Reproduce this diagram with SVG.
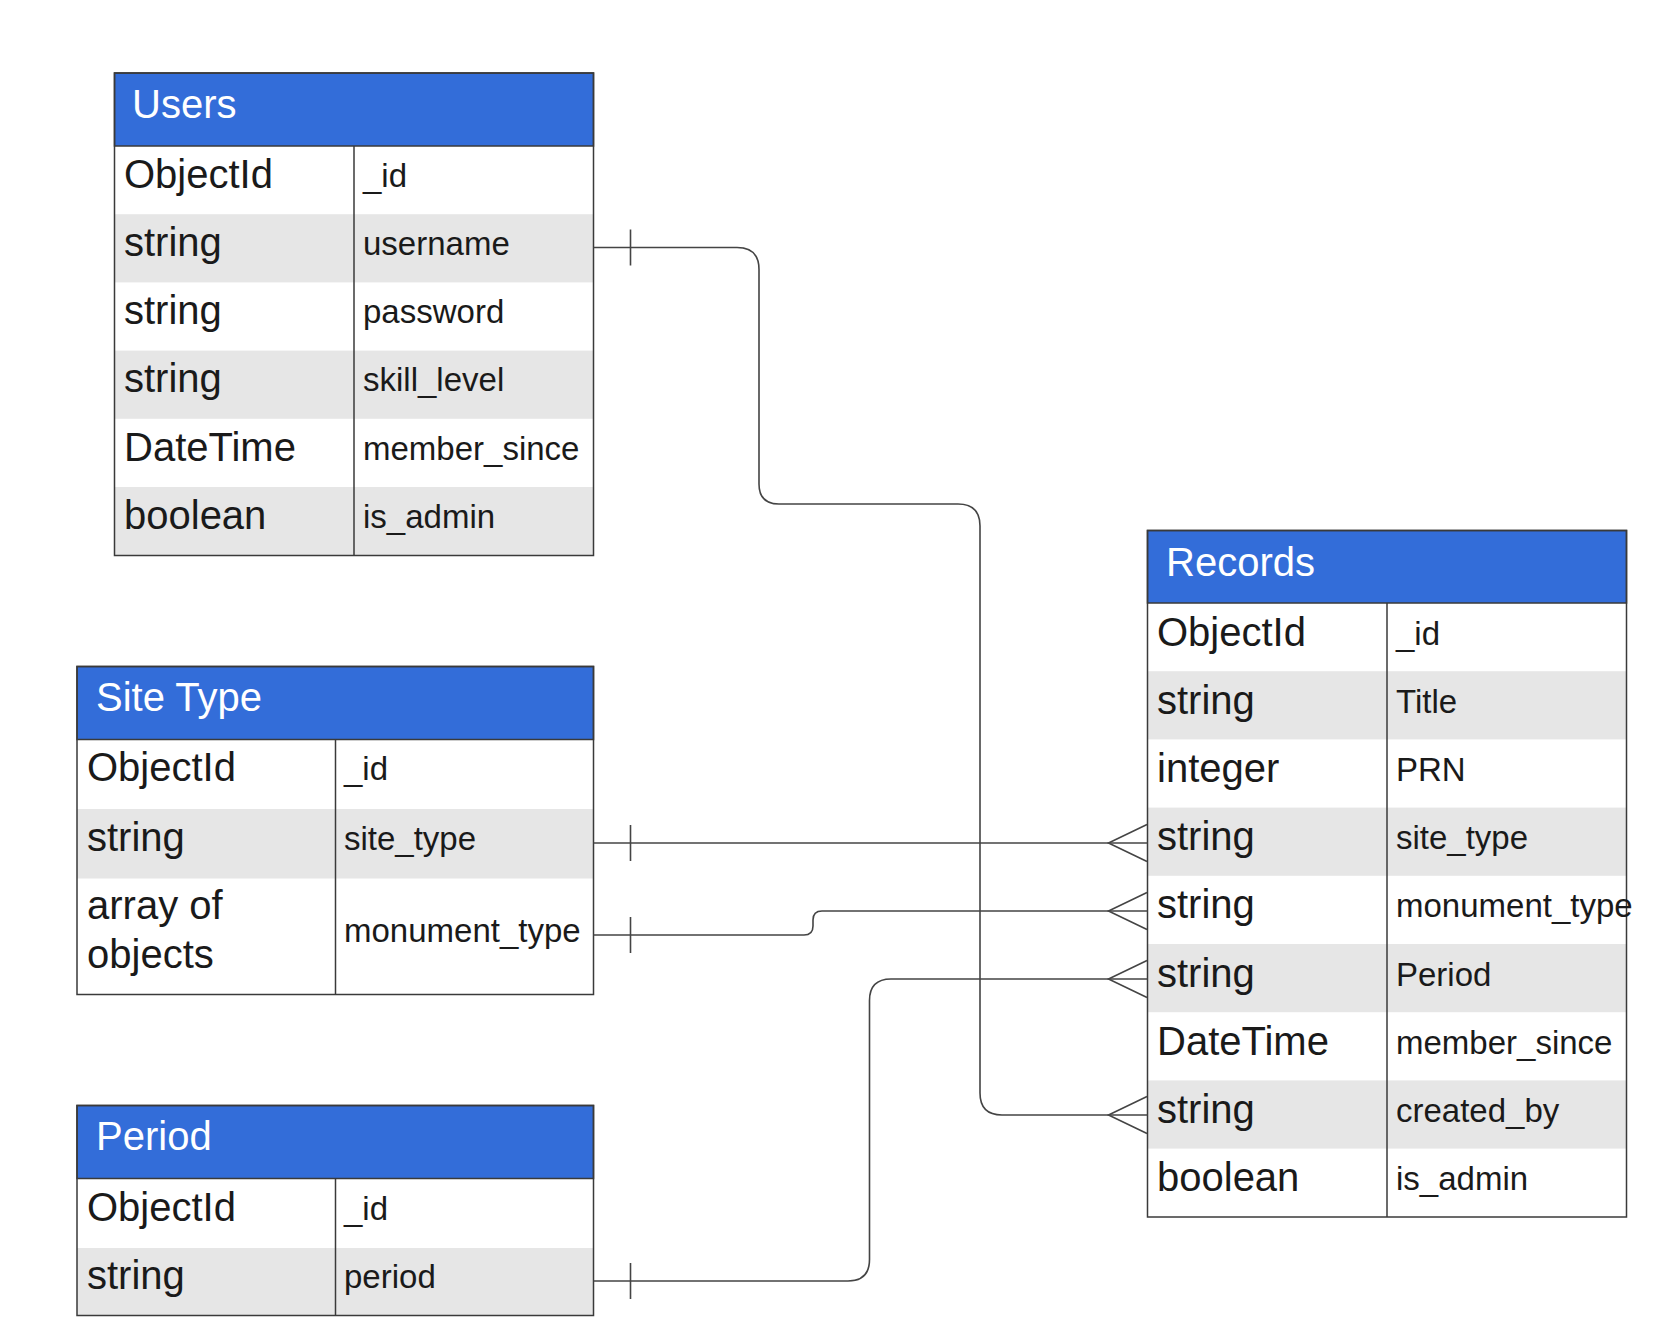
<svg xmlns="http://www.w3.org/2000/svg" width="1680" height="1340" viewBox="0 0 1680 1340">
<style>
.bg{fill:#ffffff}
.hdr{fill:#336dd9;stroke:#3a3a3a;stroke-width:1.5}
.gray{fill:#e6e6e6}
.white{fill:#ffffff}
.frame{fill:none;stroke:#3a3a3a;stroke-width:1.5}
.div{stroke:#3a3a3a;stroke-width:1.5}
.ht{font-family:"Liberation Sans",Arial,sans-serif;font-size:40px;fill:#ffffff}
.ty{font-family:"Liberation Sans",Arial,sans-serif;font-size:40px;fill:#1a1a1a}
.fd{font-family:"Liberation Sans",Arial,sans-serif;font-size:33px;fill:#1a1a1a}
.con{fill:none;stroke:#444444;stroke-width:1.6}
</style>
<rect class="bg" x="0" y="0" width="1680" height="1340"/>

<g id="users">
<rect class="white" x="114.5" y="146" width="479" height="409.5"/>
<rect class="gray" x="114.5" y="214.2" width="479" height="68.2"/>
<rect class="gray" x="114.5" y="350.6" width="479" height="68.2"/>
<rect class="gray" x="114.5" y="487" width="479" height="68.5"/>
<rect class="hdr" x="114.5" y="73" width="479" height="73"/>
<line class="div" x1="354" y1="146" x2="354" y2="555.5"/>
<rect class="frame" x="114.5" y="73" width="479" height="482.5"/>
<text class="ht" x="132" y="118">Users</text>
<text class="ty" x="124" y="188">ObjectId</text><text class="fd" x="363" y="187">_id</text>
<text class="ty" x="124" y="256">string</text><text class="fd" x="363" y="255">username</text>
<text class="ty" x="124" y="324">string</text><text class="fd" x="363" y="323">password</text>
<text class="ty" x="124" y="392">string</text><text class="fd" x="363" y="391">skill_level</text>
<text class="ty" x="124" y="461">DateTime</text><text class="fd" x="363" y="460">member_since</text>
<text class="ty" x="124" y="529">boolean</text><text class="fd" x="363" y="528">is_admin</text>
</g>

<g id="site_type">
<rect class="white" x="77" y="739.5" width="516.5" height="255"/>
<rect class="gray" x="77" y="809" width="516.5" height="69.5"/>
<rect class="hdr" x="77" y="666.5" width="516.5" height="73"/>
<line class="div" x1="335.5" y1="739.5" x2="335.5" y2="994.5"/>
<rect class="frame" x="77" y="666.5" width="516.5" height="328"/>
<text class="ht" x="96" y="711">Site Type</text>
<text class="ty" x="87" y="781">ObjectId</text><text class="fd" x="344" y="780">_id</text>
<text class="ty" x="87" y="851">string</text><text class="fd" x="344" y="850">site_type</text>
<text class="ty" x="87" y="919">array of</text>
<text class="ty" x="87" y="968">objects</text>
<text class="fd" x="344" y="942">monument_type</text>
</g>

<g id="period">
<rect class="white" x="77" y="1178.5" width="516.5" height="137"/>
<rect class="gray" x="77" y="1248" width="516.5" height="67.5"/>
<rect class="hdr" x="77" y="1105.5" width="516.5" height="73"/>
<line class="div" x1="335.5" y1="1178.5" x2="335.5" y2="1315.5"/>
<rect class="frame" x="77" y="1105.5" width="516.5" height="210"/>
<text class="ht" x="96" y="1150">Period</text>
<text class="ty" x="87" y="1221">ObjectId</text><text class="fd" x="344" y="1220">_id</text>
<text class="ty" x="87" y="1289">string</text><text class="fd" x="344" y="1288">period</text>
</g>

<g id="records">
<rect class="white" x="1147.5" y="603" width="479" height="614"/>
<rect class="gray" x="1147.5" y="671.2" width="479" height="68.2"/>
<rect class="gray" x="1147.5" y="807.6" width="479" height="68.2"/>
<rect class="gray" x="1147.5" y="944" width="479" height="68.2"/>
<rect class="gray" x="1147.5" y="1080.4" width="479" height="68.2"/>
<rect class="hdr" x="1147.5" y="530.5" width="479" height="72.5"/>
<line class="div" x1="1387" y1="603" x2="1387" y2="1217"/>
<rect class="frame" x="1147.5" y="530.5" width="479" height="686.5"/>
<text class="ht" x="1166" y="576">Records</text>
<text class="ty" x="1157" y="646">ObjectId</text><text class="fd" x="1396" y="645">_id</text>
<text class="ty" x="1157" y="714">string</text><text class="fd" x="1396" y="713">Title</text>
<text class="ty" x="1157" y="782">integer</text><text class="fd" x="1396" y="781">PRN</text>
<text class="ty" x="1157" y="850">string</text><text class="fd" x="1396" y="849">site_type</text>
<text class="ty" x="1157" y="918">string</text><text class="fd" x="1396" y="917">monument_type</text>
<text class="ty" x="1157" y="987">string</text><text class="fd" x="1396" y="986">Period</text>
<text class="ty" x="1157" y="1055">DateTime</text><text class="fd" x="1396" y="1054">member_since</text>
<text class="ty" x="1157" y="1123">string</text><text class="fd" x="1396" y="1122">created_by</text>
<text class="ty" x="1157" y="1191">boolean</text><text class="fd" x="1396" y="1190">is_admin</text>
</g>

<g id="connectors">
<!-- users.username -> records.created_by -->
<path class="con" d="M593.5 247.5 H737 Q759 247.5 759 269.5 V484 Q759 504 779 504 H958 Q980 504 980 526 V1093 Q980 1115 1002 1115 H1147.5"/>
<line class="con" x1="630.5" y1="229.5" x2="630.5" y2="265.5"/>
<path class="con" d="M1147 1096.5 L1108.5 1115 L1147 1133.5"/>
<!-- site_type.site_type -> records.site_type -->
<path class="con" d="M593.5 843 H1147.5"/>
<line class="con" x1="630.5" y1="825" x2="630.5" y2="861"/>
<path class="con" d="M1147 824.5 L1108.5 843 L1147 861.5"/>
<!-- site_type.monument_type -> records.monument_type -->
<path class="con" d="M593.5 935 H804 Q813 935 813 926 V920 Q813 911 822 911 H1147.5"/>
<line class="con" x1="630.5" y1="917" x2="630.5" y2="953"/>
<path class="con" d="M1147 892.5 L1108.5 911 L1147 929.5"/>
<!-- period.period -> records.period -->
<path class="con" d="M593.5 1281 H848 Q869.5 1281 869.5 1259.5 V1000.5 Q869.5 979 891 979 H1147.5"/>
<line class="con" x1="630.5" y1="1263" x2="630.5" y2="1299"/>
<path class="con" d="M1147 960.5 L1108.5 979 L1147 997.5"/>
</g>
</svg>
